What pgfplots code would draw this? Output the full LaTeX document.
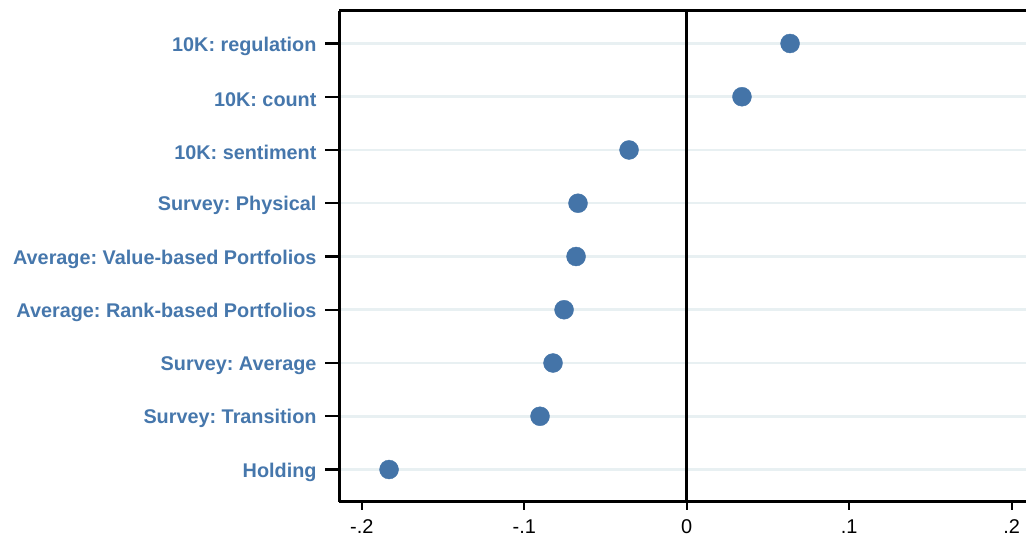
\documentclass[border=0pt]{standalone}
\usepackage{fontspec}
\setmainfont{Liberation Sans}
\usepackage{pgfplots}
\pgfplotsset{compat=1.18}
\frenchspacing
\definecolor{dotblue}{HTML}{4474A8}
\definecolor{labblue}{HTML}{4677AC}
\definecolor{gridc}{HTML}{E8F0F2}
\begin{document}
\frenchspacing
\begin{tikzpicture}[x=1bp,y=1bp]
\useasboundingbox (0,0) rectangle (1026,539);
\begin{axis}[
  at={(339bp,37bp)}, anchor=south west,
  scale only axis, width=687bp, height=491bp,
  xmin=-0.2140, xmax=0.2088, ymin=0.39, ymax=9.61,
  clip=false,
  axis y line*=left, axis x line*=bottom,
  axis line style={line width=3bp, -},
  tick align=outside,
  major tick length=14bp,
  xtick style={/pgfplots/major tick length=8bp, line width=2.2bp, black},
  ytick style={line width=2.2bp, black},
  xtick={-0.2,-0.1,0,0.1,0.2},
  xticklabels={-.2,-.1,0,.1,.2},
  ytick={1,2,3,4,5,6,7,8,9},
  yticklabels={Holding,Survey: Transition,Survey: Average,Average: Rank-based Portfolios,Average: Value-based Portfolios,Survey: Physical,10K: sentiment,10K: count,10K: regulation},
  yticklabel style={font=\bfseries\fontsize{19.9}{21}\selectfont, text=labblue, yshift=-2.5bp, xshift=-5bp},
  xticklabel style={font=\fontsize{20}{21}\selectfont, text=black},
  ymajorgrids, major grid style={gridc, line width=2.5bp},
]
\draw[black, line width=3bp] (axis cs:0,0.39) -- (axis cs:0,9.61);
\draw[black, line width=3bp] (rel axis cs:0,1) -- (rel axis cs:1,1);
\addplot[only marks, mark=*, mark size=9.5bp, mark options={fill=dotblue, draw=dotblue}] coordinates {
  (0.0636,9) (0.0340,8) (-0.0355,7) (-0.0669,6) (-0.0681,5)
  (-0.0755,4) (-0.0823,3) (-0.0903,2) (-0.1832,1)
};
\end{axis}
\end{tikzpicture}
\end{document}
